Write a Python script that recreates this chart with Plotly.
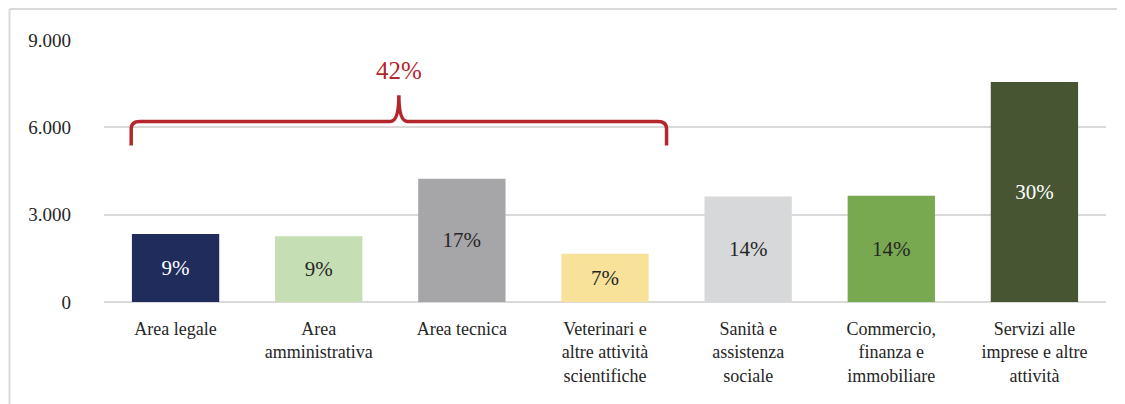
import plotly.graph_objects as go

categories = ["Area legale", "Area<br>amministrativa", "Area tecnica",
              "Veterinari e<br>altre attività<br>scientifiche", "Sanità e<br>assistenza<br>sociale",
              "Commercio,<br>finanza e<br>immobiliare", "Servizi alle<br>imprese e altre<br>attività"]
values = [2340, 2260, 4230, 1660, 3620, 3650, 7560]
pct_labels = ["9%", "9%", "17%", "7%", "14%", "14%", "30%"]
bar_colors = ["#202C5C", "#C5DEB4", "#A6A6A9", "#F8E29A", "#D7D8DA", "#78A850", "#475533"]
label_colors = ["#FFFFFF", "#262626", "#262626", "#262626", "#262626", "#262626", "#FFFFFF"]
group_label = "42%"
y_ticks = [0, 3000, 6000, 9000]

FONT = "Liberation Serif"
x = list(range(len(categories)))

fig = go.Figure()
fig.add_trace(go.Bar(
    x=x, y=values, marker=dict(color=bar_colors, line=dict(width=0)),
    width=0.61, text=pct_labels, textposition="inside", insidetextanchor="middle",
    textangle=0,
    textfont=dict(family=FONT, size=21, color=label_colors),
    insidetextfont=dict(family=FONT, size=21, color=label_colors),
    hoverinfo="skip",
))

# bracket over first four categories
x0, x1, xm = -0.31, 3.43, 1.56
yb, yh, yp = 5380, 6200, 7100
dx, dy = 0.06, 250
path = (f"M {x0},{yb} L {x0},{yh-dy} Q {x0},{yh} {x0+dx},{yh} "
        f"L {xm-dx},{yh} Q {xm},{yh} {xm},{yp} Q {xm},{yh} {xm+dx},{yh} "
        f"L {x1-dx},{yh} Q {x1},{yh} {x1},{yh-dy} L {x1},{yb}")
fig.add_shape(type="path", path=path, xref="x", yref="y",
              line=dict(color="#B3262C", width=3.5))
fig.add_annotation(x=xm, y=7950, xref="x", yref="y", text=group_label, showarrow=False,
                   font=dict(family=FONT, size=25, color="#B3262C"))

# outer frame
fig.add_shape(type="line", xref="paper", yref="paper", x0=-0.0943, x1=1.03, y0=1.118, y1=1.118,
              line=dict(color="#D9D9D9", width=2))
fig.add_shape(type="line", xref="paper", yref="paper", x0=-0.0943, x1=-0.0943, y0=1.118, y1=-0.5,
              line=dict(color="#D9D9D9", width=2))

fig.update_layout(
    width=1125, height=404,
    margin=dict(l=96, r=27, t=32, b=110, autoexpand=False),
    paper_bgcolor="white", plot_bgcolor="white",
    separators=",.",
    showlegend=False,
    font=dict(family=FONT, size=17, color="#262626"),
    xaxis=dict(tickmode="array", tickvals=x, ticktext=categories, range=[-0.5, 6.5],
               showgrid=False, zeroline=False, showline=False, ticks="", automargin=False,
               ticklabelstandoff=14,
               tickfont=dict(family=FONT, size=18, color="#262626")),
    yaxis=dict(range=[0, 9000], tickvals=y_ticks, tickformat=",d", automargin=False,
               showgrid=True, gridcolor="#D9D9D9", gridwidth=2,
               zeroline=True, zerolinecolor="#D9D9D9", zerolinewidth=2,
               showline=False, ticks="", ticklabelstandoff=32,
               tickfont=dict(family=FONT, size=19, color="#262626")),
)

fig.write_html("out.html")
